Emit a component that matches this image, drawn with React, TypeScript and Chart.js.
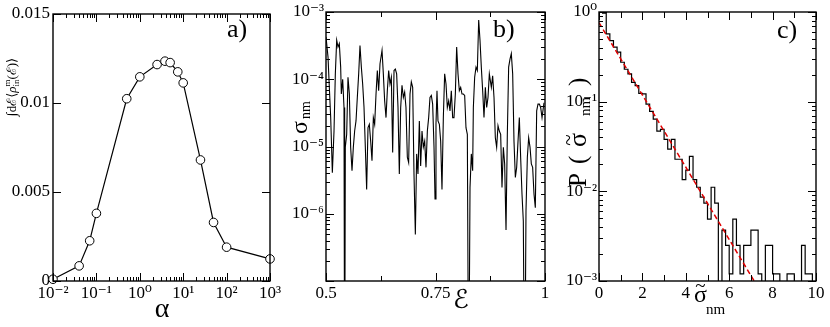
import React, { useEffect, useRef } from 'react';
import { Chart, registerables } from 'chart.js';

Chart.register(...registerables);

// ---------------- panel a) ----------------
const ALPHA = [0.01, 0.04, 0.07, 0.1, 0.5, 1, 2.5, 3.8, 5, 7.5, 10, 25, 50, 100, 1000];
const INTEGRAL_RHO = [0.0001, 0.00085, 0.00226, 0.0038, 0.01024, 0.01147, 0.01216, 0.01235, 0.01227, 0.01175, 0.01113, 0.0068, 0.00329, 0.0019, 0.00124];
const ALPHA_TICKS = [1e-2, 1e-1, 1, 10, 100, 1000];
const INTEGRAL_TICKS = [0, 0.005, 0.01, 0.015];

// ---------------- panel b) ----------------
const ENERGY = [
  0.5000, 0.5046, 0.5076, 0.5107, 0.5145, 0.5183, 0.5213, 0.5244, 0.5274, 0.5304,
  0.5335, 0.5350, 0.5381, 0.5411, 0.5426, 0.5441, 0.5472, 0.5502, 0.5533, 0.5563,
  0.5594, 0.5624, 0.5654, 0.5685, 0.5715, 0.5746, 0.5776, 0.5807, 0.5837, 0.5868,
  0.5898, 0.5928, 0.5959, 0.5989, 0.6020, 0.6050, 0.6081, 0.6111, 0.6142, 0.6172,
  0.6202, 0.6233, 0.6279, 0.6309, 0.6339, 0.6370, 0.6400, 0.6431, 0.6461, 0.6492,
  0.6522, 0.6553, 0.6583, 0.6613, 0.6644, 0.6674, 0.6705, 0.6735, 0.6766, 0.6796,
  0.6826, 0.6857, 0.6887, 0.6918, 0.6948, 0.6979, 0.7009, 0.7040, 0.7070, 0.7100,
  0.7131, 0.7161, 0.7192, 0.7222, 0.7253, 0.7283, 0.7314, 0.7344, 0.7374, 0.7405,
  0.7435, 0.7466, 0.7489, 0.7511, 0.7534, 0.7557, 0.7588, 0.7618, 0.7648, 0.7679,
  0.7709, 0.7740, 0.7770, 0.7801, 0.7831, 0.7861, 0.7892, 0.7922, 0.7953, 0.7983,
  0.8014, 0.8044, 0.8075, 0.8105, 0.8135, 0.8166, 0.8196, 0.8227, 0.8257, 0.8288,
  0.8318, 0.8348, 0.8364, 0.8394, 0.8425, 0.8455, 0.8486, 0.8516, 0.8546, 0.8577,
  0.8607, 0.8638, 0.8668, 0.8699, 0.8729, 0.8775, 0.8805, 0.8836, 0.8866, 0.8896,
  0.8927, 0.8957, 0.8988, 0.9018, 0.9049, 0.9079, 0.9110, 0.9140, 0.9170, 0.9201,
  0.9231, 0.9262, 0.9292, 0.9323, 0.9353, 0.9384, 0.9414, 0.9444, 0.9475, 0.9505,
  0.9536, 0.9566, 0.9597, 0.9627, 0.9658, 0.9688, 0.9718, 0.9749, 0.9779, 0.9810,
  0.9840, 0.9871, 0.9901, 0.9932, 0.9977,
];
// log10 of sigma_nm (-9 = drops below the axis)
const SIGMA_LOG10 = [
  -3.37, -3.67, -4.12, -4.57, -5.39, -4.77, -3.92, -3.42, -3.52, -3.47,
  -3.82, -4.22, -4.00, -4.42, -9, -5.01, -4.82, -3.97, -4.22, -5.01,
  -5.36, -5.01, -4.77, -4.62, -4.27, -3.92, -3.50, -3.82, -4.07, -4.42,
  -5.01, -5.64, -4.72, -4.67, -4.92, -5.21, -4.57, -4.67, -4.22, -3.87,
  -4.17, -3.77, -3.57, -3.92, -4.32, -4.57, -4.17, -3.87, -4.07, -3.97,
  -5.09, -3.87, -3.85, -3.92, -4.42, -5.41, -4.42, -4.09, -4.27, -4.19,
  -4.42, -5.16, -5.24, -4.22, -4.04, -4.12, -5.41, -6.31, -5.11, -5.41,
  -4.62, -5.29, -4.77, -5.01, -4.92, -5.31, -4.77, -4.57, -4.27, -4.24,
  -4.37, -5.01, -5.78, -4.67, -4.17, -4.62, -4.67, -4.92, -5.64, -4.57,
  -3.92, -4.07, -4.42, -4.32, -4.47, -4.17, -4.57, -4.57, -4.22, -3.52,
  -3.92, -4.17, -4.12, -4.22, -4.22, -4.24, -4.72, -4.82, -9, -5.61,
  -5.11, -5.36, -4.42, -3.97, -3.82, -3.87, -3.12, -3.42, -3.82, -4.17,
  -4.57, -4.12, -4.42, -4.27, -3.92, -4.12, -3.95, -4.27, -4.87, -5.01,
  -4.69, -4.77, -4.82, -5.61, -5.01, -5.26, -6.24, -4.82, -3.82, -3.70,
  -3.62, -3.92, -4.92, -5.46, -5.31, -4.92, -4.57, -5.16, -5.71, -6.11,
  -9, -5.96, -5.16, -4.87, -5.01, -5.26, -5.31, -5.71, -5.91, -4.47,
  -4.37, -4.37, -4.42, -4.57, -4.35,
];
const ENERGY_TICKS = [0.5, 0.75, 1];
const SIGMA_TICKS = [1e-6, 1e-5, 1e-4, 1e-3];

// ---------------- panel c) ----------------
const SIGMA_TILDE_BIN_WIDTH = 1 / 6;
const P_SIGMA_TILDE = [
  1.0, 0.97, 0.57, 0.48, 0.405, 0.356, 0.275, 0.23, 0.204, 0.164,
  0.151, 0.124, 0.122, 0.094, 0.078, 0.064, 0.047, 0.049, 0.038, 0.0295,
  0.038, 0.0228, 0.0228, 0.0135, 0.0172, 0.0246, 0.0135, 0.0111, 0.0086, 0.0074,
  0.0049, 0.0111, 0.0074, 0, 0.0037, 0.0025, 0.0012, 0.0049, 0.0025, 0.0012,
  0.0025, 0.0025, 0.0037, 0.0037, 0.0012, 0, 0.0025, 0.0025, 0.0012, 0.0012,
  0, 0, 0.0012, 0.0012, 0, 0, 0.0025, 0.0012, 0.0012, 0,
];
const FIT_SIGMA_TILDE = [0, 7.15];
const FIT_P = [0.76, 0.001];
const SIGMA_TILDE_TICKS = [0, 2, 4, 6, 8, 10];
const P_TICKS = [1e-3, 1e-2, 1e-1, 1];

// ---------------- helpers ----------------
const SERIF = "'Liberation Serif', 'DejaVu Serif', serif";
const SUP: Record<string, string> = { '-': '\u207B', '0': '\u2070', '1': '\u00B9', '2': '\u00B2', '3': '\u00B3', '4': '\u2074', '5': '\u2075', '6': '\u2076', '7': '\u2077', '8': '\u2078', '9': '\u2079' };
const expLabel = (v: number) => '10' + String(Math.round(Math.log10(v))).split('').map((c) => SUP[c]).join('');
const numLabel = (v: number) => String(Number(v.toFixed(4)));

const logMinors = (fromExp: number, toExp: number) => {
  const out: number[] = [];
  for (let e = fromExp; e < toExp; e++) for (let k = 2; k <= 9; k++) out.push(k * Math.pow(10, e));
  return out;
};

function axis(type: string, min: number, max: number, ticks: number[], fmt: (v: number) => string, size: number, isX: boolean, pad: number) {
  return {
    type, min, max,
    grid: { display: false, drawTicks: false },
    border: { display: false },
    afterBuildTicks: (s: any) => { s.ticks = ticks.map((value) => ({ value })); },
    afterFit: (s: any) => {
      if (isX) s.height = size; else s.width = size;
      s.paddingLeft = 0; s.paddingRight = 0; s.paddingTop = 0; s.paddingBottom = 0;
    },
    ticks: {
      autoSkip: false, maxRotation: 0, minRotation: 0, padding: pad, color: '#000',
      font: { family: SERIF, size: 17 },
      callback: (v: any) => fmt(Number(v)),
    },
  };
}

function framePlugin(spec: { xMajor: number[]; xMinor: number[]; yMajor: number[]; yMinor: number[]; xMinorLen: number }) {
  return {
    id: 'frameTicks',
    afterDatasetsDraw(chart: any) {
      const { ctx, chartArea } = chart;
      const { left, right, top, bottom } = chartArea;
      const xs = chart.scales.x, ys = chart.scales.y;
      ctx.save();
      ctx.strokeStyle = '#000';
      ctx.lineWidth = 1;
      ctx.beginPath();
      const vt = (v: number, len: number) => {
        const p = Math.round(xs.getPixelForValue(v)) + 0.5;
        ctx.moveTo(p, bottom); ctx.lineTo(p, bottom - len);
        ctx.moveTo(p, top); ctx.lineTo(p, top + len);
      };
      const ht = (v: number, len: number) => {
        const p = Math.round(ys.getPixelForValue(v)) + 0.5;
        ctx.moveTo(left, p); ctx.lineTo(left + len, p);
        ctx.moveTo(right, p); ctx.lineTo(right - len, p);
      };
      spec.xMajor.forEach((v) => vt(v, 8));
      spec.xMinor.forEach((v) => vt(v, spec.xMinorLen));
      spec.yMajor.forEach((v) => ht(v, 8));
      spec.yMinor.forEach((v) => ht(v, 4));
      ctx.stroke();
      ctx.lineWidth = 1.4;
      ctx.strokeRect(left, top, right - left, bottom - top);
      ctx.restore();
    },
  };
}

type Piece = { t: string; size: number; x: number; y: number; rot?: boolean; italic?: boolean; family?: string; align?: string; tilde?: boolean };
function drawPieces(ctx: CanvasRenderingContext2D, pieces: Piece[]) {
  for (const p of pieces) {
    ctx.save();
    ctx.font = `${p.italic ? 'italic ' : ''}${p.size}px ${p.family ?? SERIF}`;
    ctx.fillStyle = '#000';
    ctx.textBaseline = 'alphabetic';
    ctx.textAlign = (p.align ?? 'left') as CanvasTextAlign;
    ctx.translate(p.x, p.y);
    if (p.rot) ctx.rotate(-Math.PI / 2);
    ctx.fillText(p.t, 0, 0);
    if (p.tilde) {
      const w = ctx.measureText(p.t).width;
      ctx.font = `${Math.round(p.size * 0.8)}px ${SERIF}`;
      ctx.textAlign = 'center';
      ctx.fillText('~', w / 2, -p.size * 0.43);
    }
    ctx.restore();
  }
}

type Run = { t: string; size: number; dy?: number; italic?: boolean; noAdvance?: boolean; family?: string };
function drawRichRotated(ctx: CanvasRenderingContext2D, runs: Run[], cx: number, cy: number, base: number) {
  ctx.save();
  const fontOf = (r: Run) => `${r.italic ? 'italic ' : ''}${r.size}px ${r.family ?? SERIF}`;
  let total = 0;
  for (const r of runs) { ctx.font = fontOf(r); if (!r.noAdvance) total += ctx.measureText(r.t).width; }
  ctx.translate(cx, cy);
  ctx.rotate(-Math.PI / 2);
  ctx.fillStyle = '#000';
  ctx.textBaseline = 'alphabetic';
  let x = -total / 2;
  for (const r of runs) {
    ctx.font = fontOf(r);
    ctx.fillText(r.t, x, base + (r.dy ?? 0));
    if (!r.noAdvance) x += ctx.measureText(r.t).width;
  }
  ctx.restore();
}

function textPlugin(draw: (ctx: CanvasRenderingContext2D) => void) {
  return { id: 'texts', afterDraw(chart: any) { const ctx = chart.ctx; ctx.save(); draw(ctx); ctx.restore(); } };
}

const common = {
  responsive: false,
  animation: false,
  devicePixelRatio: 1,
  events: [],
  plugins: { legend: { display: false }, tooltip: { enabled: false } },
};

function configA(): any {
  return {
    type: 'line',
    data: {
      datasets: [{
        data: ALPHA.map((a, i) => ({ x: a, y: INTEGRAL_RHO[i] })),
        borderColor: '#000', borderWidth: 1.2, tension: 0, clip: false,
        pointRadius: 4.3, pointBorderWidth: 1, pointBackgroundColor: '#fff', pointBorderColor: '#000',
      }],
    },
    options: {
      ...common,
      layout: { padding: { left: 0, right: 560, top: 14, bottom: 0 } },
      scales: {
        x: axis('logarithmic', 0.01, 1000, ALPHA_TICKS, expLabel, 46, true, 2),
        y: axis('linear', 0, 0.015, INTEGRAL_TICKS, numLabel, 53, false, 3),
      },
    },
    plugins: [
      framePlugin({ xMajor: ALPHA_TICKS, xMinor: logMinors(-2, 3), yMajor: INTEGRAL_TICKS, yMinor: [], xMinorLen: 4 }),
      textPlugin((ctx) => {
        drawPieces(ctx, [
          { t: 'a)', size: 26, x: 227, y: 37 },
          { t: '\u03B1', size: 28, x: 162, y: 317, align: 'center' },
        ]);
        drawRichRotated(ctx, [
          { t: '\u222B', size: 14 },
          { t: 'd\u2130', size: 13 },
          { t: '\u27E8', size: 13 },
          { t: '\u03C1', size: 13, italic: true },
          { t: 'm', size: 9, dy: -6, noAdvance: true },
          { t: 'in', size: 9, dy: 3 },
          { t: '(\u2130)', size: 13 },
          { t: '\u27E9', size: 13 },
        ], 12, 87, 4);
      }),
    ],
  };
}

function configB(): any {
  return {
    type: 'line',
    data: {
      datasets: [{
        data: ENERGY.map((e, i) => ({ x: e, y: Math.pow(10, SIGMA_LOG10[i]) })),
        borderColor: '#000', borderWidth: 1.1, tension: 0, pointRadius: 0,
      }],
    },
    options: {
      ...common,
      layout: { padding: { left: 286, right: 285, top: 12, bottom: 0 } },
      scales: {
        x: axis('linear', 0.5, 1, ENERGY_TICKS, numLabel, 46, true, 2),
        y: axis('logarithmic', 1e-7, 1e-3, SIGMA_TICKS, expLabel, 40, false, 2),
      },
    },
    plugins: [
      framePlugin({ xMajor: ENERGY_TICKS, xMinor: [0.625, 0.875], yMajor: [1e-7, ...SIGMA_TICKS], yMinor: logMinors(-7, -3), xMinorLen: 5 }),
      textPlugin((ctx) => {
        drawPieces(ctx, [
          { t: 'b)', size: 26, x: 493, y: 37 },
          { t: '\u2130', size: 26, x: 453, y: 308, family: "'DejaVu Serif', 'DejaVu Sans', serif" },
          { t: '\u03C3', size: 24, x: 307, y: 134, rot: true },
          { t: 'nm', size: 14, x: 310, y: 119, rot: true },
        ]);
      }),
    ],
  };
}

function configC(): any {
  const hist = P_SIGMA_TILDE.map((p, k) => ({ x: k * SIGMA_TILDE_BIN_WIDTH, y: p > 0 ? p : 1e-4 }));
  const last = P_SIGMA_TILDE[P_SIGMA_TILDE.length - 1];
  hist.push({ x: P_SIGMA_TILDE.length * SIGMA_TILDE_BIN_WIDTH, y: last > 0 ? last : 1e-4 });
  return {
    type: 'line',
    data: {
      datasets: [
        {
          data: FIT_SIGMA_TILDE.map((s, i) => ({ x: s, y: FIT_P[i] })),
          borderColor: '#e00000', borderWidth: 1.5, borderDash: [5, 3], pointRadius: 0, tension: 0,
        },
        {
          data: hist,
          borderColor: '#000', borderWidth: 1.2, pointRadius: 0, stepped: 'before',
        },
      ],
    },
    options: {
      ...common,
      layout: { padding: { left: 559, right: 14, top: 12, bottom: 0 } },
      scales: {
        x: axis('linear', 0, 10, SIGMA_TILDE_TICKS, numLabel, 46, true, 2),
        y: axis('logarithmic', 1e-3, 1, P_TICKS, expLabel, 40, false, 2),
      },
    },
    plugins: [
      framePlugin({ xMajor: SIGMA_TILDE_TICKS, xMinor: [1, 3, 5, 7, 9], yMajor: P_TICKS, yMinor: logMinors(-3, 0), xMinorLen: 6 }),
      textPlugin((ctx) => {
        drawPieces(ctx, [
          { t: 'c)', size: 26, x: 777, y: 38 },
          { t: 'P', size: 25, x: 586, y: 187, rot: true },
          { t: '(', size: 25, x: 586, y: 164, rot: true },
          { t: '\u03C3', size: 26, x: 586, y: 147, rot: true, tilde: true },
          { t: 'nm', size: 15, x: 590, y: 116, rot: true },
          { t: ')', size: 25, x: 586, y: 86, rot: true },
          { t: '\u03C3', size: 24, x: 694, y: 302, tilde: true },
          { t: 'nm', size: 15, x: 706, y: 314 },
        ]);
      }),
    ],
  };
}

function Panel({ make }: { make: () => any }) {
  const ref = useRef<HTMLCanvasElement>(null);
  useEffect(() => {
    const chart = new Chart(ref.current as HTMLCanvasElement, make());
    return () => chart.destroy();
  }, [make]);
  return (
    <canvas
      ref={ref}
      width={830}
      height={327}
      style={{ position: 'absolute', left: 0, top: 0, width: 830, height: 327 }}
    />
  );
}

export default function App() {
  return (
    <div style={{ position: 'fixed', left: 0, top: 0, width: 830, height: 327, background: '#fff', overflow: 'hidden' }}>
      <Panel make={configA} />
      <Panel make={configB} />
      <Panel make={configC} />
    </div>
  );
}
